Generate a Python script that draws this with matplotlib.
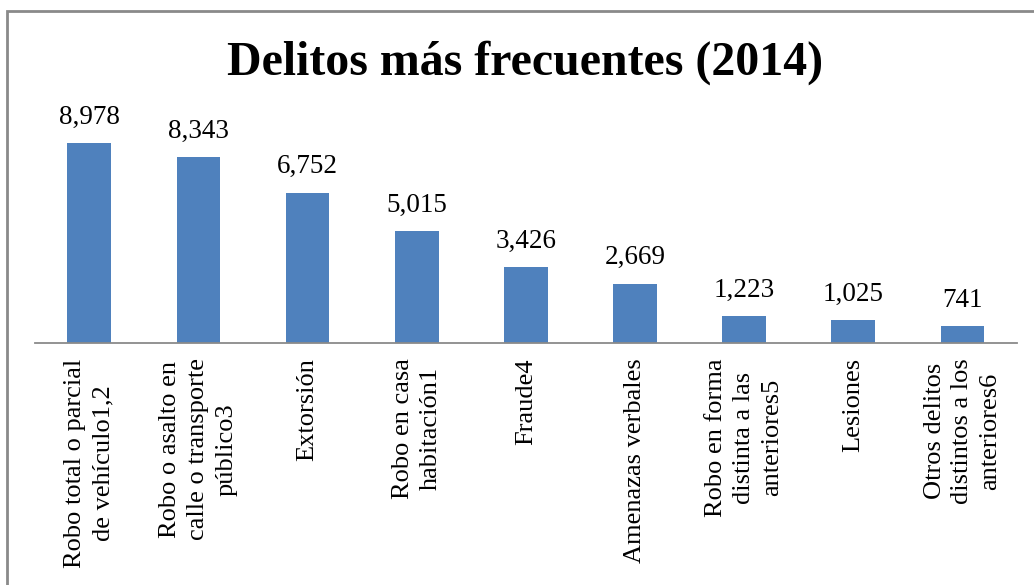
import matplotlib
matplotlib.use('Agg')
import matplotlib.pyplot as plt
from matplotlib.patches import Rectangle

# ---------------------------------------------------------------------------
# data
# ---------------------------------------------------------------------------
categorias = [
    "Robo total o parcial\nde vehículo1,2",
    "Robo o asalto en\ncalle o transporte\npúblico3",
    "Extorsión",
    "Robo en casa\nhabitación1",
    "Fraude4",
    "Amenazas verbales",
    "Robo en forma\ndistinta a las\nanteriores5",
    "Lesiones",
    "Otros delitos\ndistintos a los\nanteriores6",
]
delitos = [8978, 8343, 6752, 5015, 3426, 2669, 1223, 1025, 741]
titulo = "Delitos más frecuentes (2014)"

BAR_COLOR = "#4F81BD"
AXIS_GRAY = "#8A8A8A"

plt.rcParams['font.family'] = ['Liberation Serif', 'DejaVu Serif']

fig = plt.figure(figsize=(10.34, 5.85), dpi=100)
ax = fig.add_axes([0.0335, 0.4137, 0.9501, 0.3809])

x = range(len(categorias))
bars = ax.bar(x, delitos, width=0.4, color=BAR_COLOR, zorder=2)

# value labels above the bars
for b, v in zip(bars, delitos):
    ax.annotate(f"{v:,}", (b.get_x() + b.get_width() / 2, v),
                xytext=(0, 9.5), textcoords='offset points',
                ha='center', va='bottom', fontsize=19.5)

ax.set_xlim(-0.5, len(categorias) - 0.5)
ax.set_ylim(0, 10000)
ax.set_xticks(list(x))
ax.set_xticklabels(categorias, rotation=90, ha='center', va='top',
                   multialignment='center', fontsize=19, linespacing=1.35)
ax.tick_params(axis='x', length=0, pad=11)
ax.set_yticks([])

for side in ('top', 'right', 'left'):
    ax.spines[side].set_visible(False)
ax.spines['bottom'].set_color(AXIS_GRAY)
ax.spines['bottom'].set_linewidth(1.3)

fig.text(0.508, 1 - 63 / 585, titulo, ha='center', va='center',
         fontsize=34.5, fontweight='bold')

# chart-area frame (only left and top edges visible in the crop)
fig.patches.append(Rectangle((7 / 1034, -0.1), 1.2, 1 - 11 / 585 + 0.1,
                             transform=fig.transFigure, fill=False,
                             edgecolor=AXIS_GRAY, linewidth=2))

fig.savefig('out.png', dpi=100)
